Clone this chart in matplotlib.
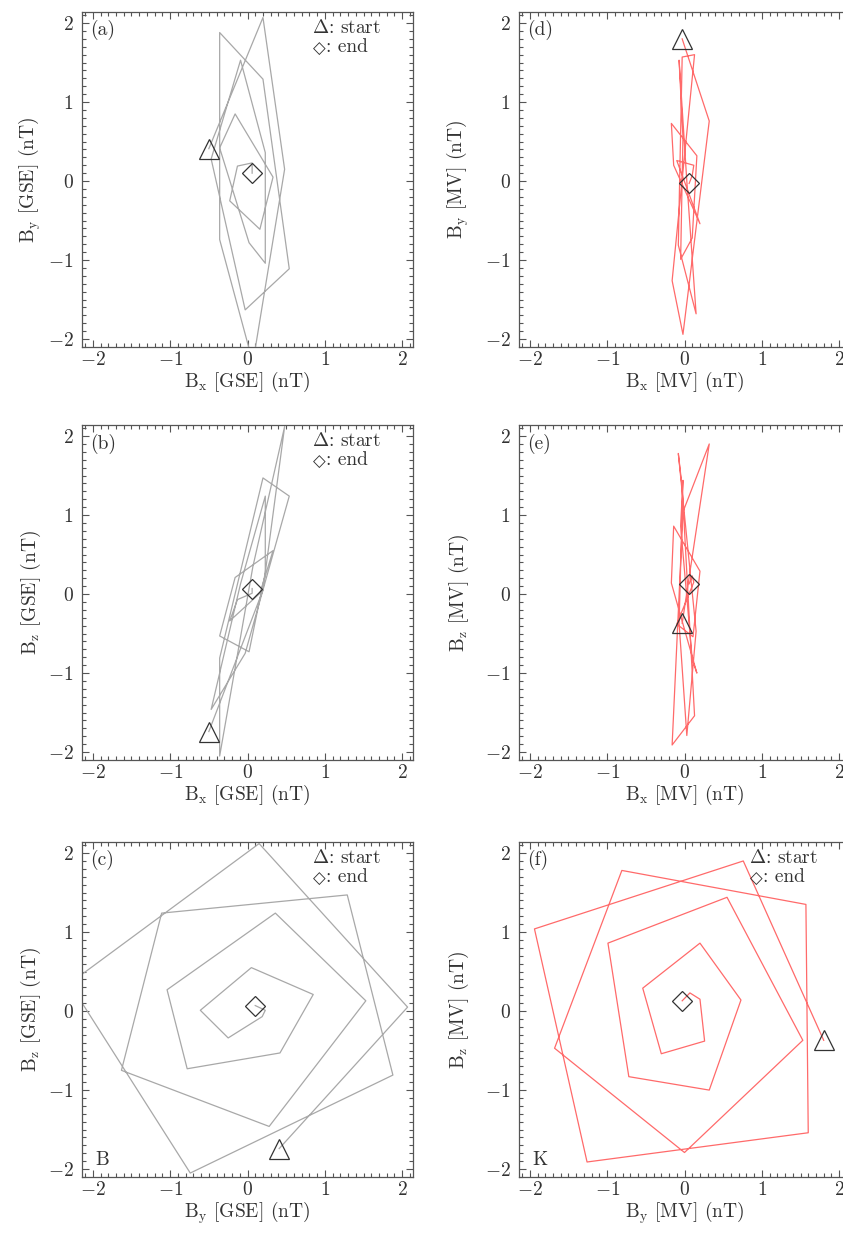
import numpy as np
import matplotlib
matplotlib.use('Agg')
import matplotlib.pyplot as plt
from matplotlib.ticker import FixedLocator, MultipleLocator

plt.rcParams['font.family'] = 'serif'
plt.rcParams['font.serif'] = ['cmr10']
plt.rcParams['mathtext.fontset'] = 'cm'
plt.rcParams['axes.unicode_minus'] = False
plt.rcParams['axes.formatter.use_mathtext'] = True

# ---- data: GSE hodogram (one 3-D trajectory, three projections) ----
bx_gse = [-0.50, 0.20, 0.48, 0.07, -0.36, -0.36, 0.20, 0.54, -0.03, -0.47, -0.09,
          0.23, 0.23, 0.02, -0.36, -0.16, 0.33, 0.16, -0.23, -0.13, 0.06, 0.06]
by_gse = [0.41, 2.07, 0.15, -2.30, -0.74, 1.88, 1.29, -1.11, -1.63, 0.28, 1.53,
          0.36, -1.04, -0.78, 0.42, 0.85, 0.05, -0.61, -0.25, 0.19, 0.23, 0.10]
bz_gse = [-1.74, 0.05, 2.12, 0.35, -2.05, -0.81, 1.47, 1.24, -0.75, -1.46, 0.13,
          1.24, 0.27, -0.73, -0.53, 0.21, 0.55, 0.01, -0.34, -0.07, 0.01, 0.07]

# ---- data: minimum-variance frame ----
bx_mv = [-0.03, 0.32, -0.02, -0.16, 0.13, -0.03, -0.08, 0.15, 0.03, -0.07, -0.02,
         -0.05, 0.10, 0.16, -0.17, -0.14, 0.20, 0.11, -0.10, 0.12, 0.10, 0.06]
by_mv = [1.80, 0.76, -1.94, -1.26, 1.60, 1.57, -0.81, -1.68, 0.00, 1.53, 0.55,
         -0.99, -0.72, 0.32, 0.73, 0.20, -0.54, -0.30, 0.26, 0.20, 0.07, -0.03]
bz_mv = [-0.37, 1.90, 1.04, -1.91, -1.54, 1.35, 1.78, -0.47, -1.79, -0.37, 1.44,
         0.86, -0.83, -1.00, 0.14, 0.86, 0.29, -0.54, -0.38, 0.15, 0.23, 0.13]

tick_values = [-2, -1, 0, 1, 2]
tick_labels = [r'$-2$', r'$-1$', r'$0$', r'$1$', r'$2$']
panel_letters = ['(a)', '(b)', '(c)', '(d)', '(e)', '(f)']

GRAY = '#a8a8a8'
RED = '#ff6a6a'
DARK = '#333333'

fig = plt.figure(figsize=(8.43, 12.42), dpi=100)
W, H = 843.0, 1242.0

def make_ax(left_px, top_px, w_px=331, h_px=335):
    return fig.add_axes([left_px / W, 1 - (top_px + h_px) / H, w_px / W, h_px / H])

col_left = [82, 519]
row_top = [12, 425, 842]

panels = [
    (0, 0, bx_gse, by_gse, GRAY, r'$\mathrm{B_x}$ [GSE] (nT)', r'$\mathrm{B_y}$ [GSE] (nT)', True, None),
    (0, 1, bx_gse, bz_gse, GRAY, r'$\mathrm{B_x}$ [GSE] (nT)', r'$\mathrm{B_z}$ [GSE] (nT)', True, None),
    (0, 2, by_gse, bz_gse, GRAY, r'$\mathrm{B_y}$ [GSE] (nT)', r'$\mathrm{B_z}$ [GSE] (nT)', True, 'B'),
    (1, 0, bx_mv, by_mv, RED, r'$\mathrm{B_x}$ [MV] (nT)', r'$\mathrm{B_y}$ [MV] (nT)', False, None),
    (1, 1, bx_mv, bz_mv, RED, r'$\mathrm{B_x}$ [MV] (nT)', r'$\mathrm{B_z}$ [MV] (nT)', False, None),
    (1, 2, by_mv, bz_mv, RED, r'$\mathrm{B_y}$ [MV] (nT)', r'$\mathrm{B_z}$ [MV] (nT)', True, 'K'),
]

FS = 14
for i, (c, r, xs, ys, colr, xl, yl, leg, corner) in enumerate(panels):
    ax = make_ax(col_left[c], row_top[r])
    ax.plot(xs, ys, color=colr, lw=0.9, zorder=2)
    ax.plot(xs[0], ys[0], marker='^', ms=14.5, mfc='none', mec=DARK, mew=0.9, zorder=3)
    ax.plot(xs[-1], ys[-1], marker='D', ms=10.5, mfc='none', mec=DARK, mew=0.9, zorder=3)
    ax.set_xlim(-2.14, 2.14)
    ax.set_ylim(-2.1, 2.14)
    ax.xaxis.set_major_locator(FixedLocator(tick_values))
    ax.yaxis.set_major_locator(FixedLocator(tick_values))
    ax.set_xticklabels(tick_labels)
    ax.set_yticklabels(tick_labels)
    ax.xaxis.set_minor_locator(MultipleLocator(0.1))
    ax.yaxis.set_minor_locator(MultipleLocator(0.1))
    ax.tick_params(which='both', direction='in', top=True, right=True, colors='#555555',
                   labelcolor=DARK, width=0.8)
    ax.tick_params(which='major', length=5, labelsize=FS)
    ax.tick_params(which='minor', length=2.8)
    ax.tick_params(axis='x', which='major', pad=3)
    ax.tick_params(axis='y', which='major', pad=6)
    for s in ax.spines.values():
        s.set_color('#555555')
        s.set_linewidth(0.9)
    ax.set_xlabel(xl, fontsize=FS, color=DARK)
    ax.set_ylabel(yl, fontsize=FS, color=DARK)
    ax.xaxis.set_label_coords(0.5, -0.068)
    ax.yaxis.set_label_coords(-0.118 if c == 0 else -0.145, 0.5)
    ax.text(0.025, 0.975, panel_letters[i], transform=ax.transAxes, fontsize=FS,
            color=DARK, ha='left', va='top')
    if leg:
        ax.text(0.695, 0.978, r'$\Delta$: start', transform=ax.transAxes, fontsize=FS,
                color=DARK, ha='left', va='top')
        ax.text(0.697, 0.918, '\u25c7', transform=ax.transAxes, fontsize=FS * 0.85,
                family='DejaVu Sans', color=DARK, ha='left', va='top')
        ax.text(0.737, 0.922, ': end', transform=ax.transAxes, fontsize=FS,
                color=DARK, ha='left', va='top')
    if corner:
        ax.text(0.04, 0.025, corner, transform=ax.transAxes, fontsize=FS,
                color=DARK, ha='left', va='bottom')

fig.savefig('out.png', dpi=100)
